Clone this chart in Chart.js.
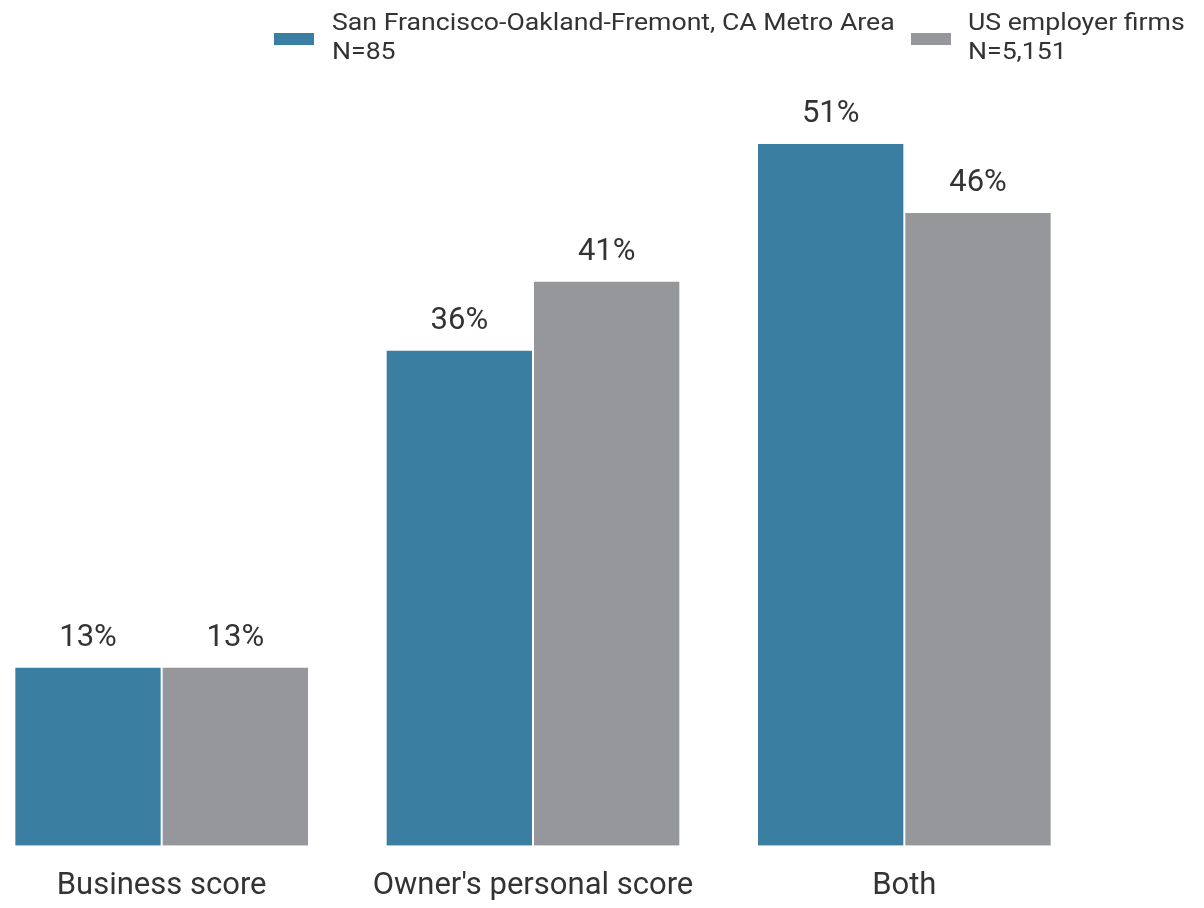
<!DOCTYPE html>
<html>
<head>
<meta charset="utf-8">
<script src="https://cdn.jsdelivr.net/npm/chart.js@4.4.1/dist/chart.umd.min.js"></script>
<style>
  html, body { margin: 0; padding: 0; background: #fff; overflow: hidden; }
  #wrap { position: relative; width: 1204px; height: 908px; overflow: hidden; font-family: Roboto, sans-serif; color: #333; }
  #chart { position: absolute; left: -24px; top: 0; }
  .legend-swatch { position: absolute; top: 33px; width: 40px; height: 12px; }
  .legend-text {
    position: absolute; top: 8px; font-size: 24px; line-height: 29px; white-space: nowrap;
    transform: scaleX(1.11); transform-origin: left top;
  }
</style>
</head>
<body>
<div id="wrap">
  <canvas id="chart" width="1228" height="925"></canvas>
</div>
<script>
const categories = ['Business score', "Owner's personal score", 'Both'];
const metroValues = [13, 36, 51];
const usValues = [13, 41, 46];
const seriesLabels = [
  ['San Francisco-Oakland-Fremont, CA Metro Area', 'N=85'],
  ['US employer firms', 'N=5,151']
];
const seriesColors = ['#3a7ea1', '#96979b'];

const textColor = '#333333';
const fontFamily = 'Roboto, sans-serif';

// draws the percent labels above each bar
const barLabels = {
  id: 'barLabels',
  afterDatasetsDraw(chart) {
    const ctx = chart.ctx;
    ctx.save();
    ctx.font = `31px ${fontFamily}`;
    ctx.fillStyle = textColor;
    ctx.textAlign = 'center';
    ctx.textBaseline = 'alphabetic';
    chart.data.datasets.forEach((ds, i) => {
      chart.getDatasetMeta(i).data.forEach((bar, j) => {
        ctx.fillText(ds.data[j] + '%', bar.x, bar.y - 21);
      });
    });
    ctx.restore();
  }
};

const datasets = [metroValues, usValues].map((values, i) => ({
  label: seriesLabels[i].join(' '),
  data: values,
  backgroundColor: seriesColors[i],
  borderColor: '#ffffff',
  borderWidth: 1,
  barPercentage: 1,
  categoryPercentage: 0.7935
}));

new Chart(document.getElementById('chart'), {
  type: 'bar',
  data: { labels: categories, datasets: datasets },
  options: {
    responsive: false,
    animation: false,
    layout: { padding: { top: 19, bottom: 6, left: 0, right: 114 } },
    plugins: {
      legend: { display: false },
      tooltip: { enabled: false }
    },
    scales: {
      x: {
        grid: { display: false },
        border: { display: false },
        ticks: {
          color: textColor,
          padding: 14,
          font: { family: fontFamily, size: 31 }
        }
      },
      y: {
        display: false,
        min: 0,
        max: 60
      }
    }
  },
  plugins: [barLabels]
});

// html legend with two-line labels
const wrap = document.getElementById('wrap');
const swatchX = [274, 911];
const textX = [332, 968];
seriesLabels.forEach((lines, i) => {
  const swatch = document.createElement('div');
  swatch.className = 'legend-swatch';
  swatch.style.left = swatchX[i] + 'px';
  swatch.style.background = seriesColors[i];
  const text = document.createElement('div');
  text.className = 'legend-text';
  text.style.left = textX[i] + 'px';
  text.innerHTML = lines.join('<br>');
  wrap.appendChild(swatch);
  wrap.appendChild(text);
});
</script>
</body>
</html>
